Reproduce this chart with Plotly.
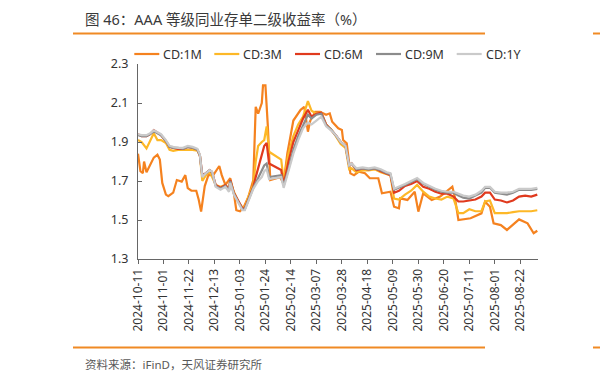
import plotly.graph_objects as go

# ---------------- data ----------------
dates_1m = ["2024-10-11","2024-10-13","2024-10-15","2024-10-16","2024-10-18","2024-10-21","2024-10-24","2024-10-27",
            "2024-10-29","2024-10-31","2024-11-03","2024-11-05","2024-11-09","2024-11-12","2024-11-16","2024-11-19",
            "2024-11-21","2024-11-24","2024-11-28","2024-11-30","2024-12-02","2024-12-05","2024-12-08","2024-12-12",
            "2024-12-17","2024-12-19","2024-12-22","2024-12-26","2024-12-29","2024-12-31","2025-01-03","2025-01-06",
            "2025-01-10","2025-01-14","2025-01-16","2025-01-18","2025-01-21","2025-01-22","2025-01-24","2025-01-26",
            "2025-01-28","2025-02-05","2025-02-08","2025-02-11","2025-02-16","2025-02-22","2025-02-25","2025-02-28",
            "2025-03-02","2025-03-06","2025-03-10","2025-03-15","2025-03-18","2025-03-20","2025-03-25","2025-03-28",
            "2025-03-29","2025-04-01","2025-04-04","2025-04-07","2025-04-11","2025-04-16","2025-04-20","2025-04-27",
            "2025-04-30","2025-05-07","2025-05-10","2025-05-14","2025-05-15","2025-05-21","2025-05-27","2025-05-30",
            "2025-06-03","2025-06-10","2025-06-17","2025-06-27","2025-06-29","2025-07-02","2025-07-12","2025-07-21",
            "2025-07-24","2025-07-28","2025-07-31","2025-08-06","2025-08-11","2025-08-21","2025-08-28","2025-09-02",
            "2025-09-05"]
cd_1m = [1.84,1.75,1.74,1.80,1.745,1.78,1.82,1.835,
         1.81,1.69,1.63,1.622,1.64,1.705,1.697,1.73,
         1.663,1.65,1.65,1.605,1.543,1.674,1.73,1.73,
         1.777,1.73,1.68,1.714,1.637,1.55,1.545,1.565,
         1.62,1.705,2.08,2.045,2.10,2.19,2.19,1.98,
         1.705,1.72,1.688,1.84,2.01,2.065,2.08,1.953,
         2.01,2.055,2.055,2.04,2.047,2.004,1.97,1.962,
         1.91,1.893,1.739,1.73,1.748,1.74,1.714,1.714,
         1.637,1.645,1.568,1.56,1.611,1.603,1.645,1.543,
         1.637,1.603,1.62,1.671,1.62,1.50,1.509,1.534,
         1.594,1.568,1.483,1.474,1.449,1.503,1.483,1.432,
         1.445]

dates = ["2024-10-11","2024-10-14","2024-10-18","2024-10-21","2024-10-24","2024-10-27","2024-10-30","2024-11-03",
         "2024-11-06","2024-11-09","2024-11-13","2024-11-17","2024-11-21","2024-11-25","2024-11-29","2024-12-01",
         "2024-12-03","2024-12-06","2024-12-09","2024-12-11","2024-12-14","2024-12-18","2024-12-22","2024-12-25",
         "2024-12-26","2024-12-29","2025-01-02","2025-01-05","2025-01-07","2025-01-10","2025-01-14","2025-01-16",
         "2025-01-18","2025-01-21","2025-01-23","2025-01-25","2025-01-27","2025-02-06","2025-02-08","2025-02-12",
         "2025-02-16","2025-02-20","2025-02-24","2025-02-28","2025-03-03","2025-03-07","2025-03-11","2025-03-15",
         "2025-03-19","2025-03-23","2025-03-27","2025-03-31","2025-04-03","2025-04-05","2025-04-09","2025-04-14",
         "2025-04-19","2025-04-24","2025-04-29","2025-05-04","2025-05-07","2025-05-10","2025-05-14","2025-05-19",
         "2025-05-24","2025-05-29","2025-06-03","2025-06-08","2025-06-13","2025-06-18","2025-06-23","2025-06-28",
         "2025-07-02","2025-07-06","2025-07-11","2025-07-16","2025-07-21","2025-07-24","2025-07-28","2025-08-01",
         "2025-08-06","2025-08-11","2025-08-16","2025-08-21","2025-08-26","2025-08-31","2025-09-05"]
cd_3m = [1.91,1.90,1.867,1.91,1.945,1.91,1.91,1.895,
         1.86,1.855,1.86,1.86,1.86,1.86,1.855,1.83,
         1.70,1.73,1.75,1.72,1.68,1.67,1.68,1.66,
         1.70,1.645,1.59,1.565,1.565,1.62,1.68,1.80,
         1.88,1.90,1.91,1.98,1.85,1.81,1.70,1.84,
         1.93,1.99,2.03,2.11,2.06,2.045,2.05,1.99,
         1.965,1.93,1.89,1.87,1.76,1.765,1.745,1.755,
         1.755,1.76,1.745,1.735,1.73,1.61,1.605,1.63,
         1.65,1.68,1.645,1.62,1.61,1.605,1.62,1.61,
         1.535,1.535,1.555,1.545,1.545,1.595,1.60,1.535,
         1.535,1.535,1.54,1.545,1.545,1.545,1.55]
cd_6m = [1.94,1.93,1.93,1.94,1.96,1.945,1.935,1.905,
         1.875,1.87,1.865,1.865,1.875,1.87,1.86,1.83,
         1.73,1.74,1.755,1.745,1.68,1.665,1.68,1.655,
         1.705,1.64,1.59,1.56,1.56,1.61,1.67,1.72,
         1.77,1.84,1.88,1.895,1.79,1.756,1.68,1.80,
         1.90,1.96,2.02,2.065,2.03,2.045,2.05,1.99,
         1.965,1.935,1.90,1.88,1.78,1.79,1.755,1.765,
         1.76,1.765,1.75,1.735,1.73,1.64,1.65,1.675,
         1.685,1.70,1.67,1.66,1.645,1.635,1.635,1.62,
         1.595,1.595,1.60,1.605,1.62,1.64,1.64,1.605,
         1.60,1.59,1.60,1.62,1.625,1.62,1.63]
cd_9m = [1.935,1.93,1.93,1.94,1.955,1.945,1.935,1.905,
         1.875,1.87,1.87,1.865,1.875,1.87,1.86,1.83,
         1.725,1.74,1.755,1.745,1.675,1.66,1.675,1.65,
         1.70,1.635,1.585,1.555,1.555,1.605,1.665,1.69,
         1.715,1.75,1.78,1.79,1.72,1.73,1.675,1.76,
         1.86,1.93,1.99,2.04,2.02,2.04,2.045,1.985,
         1.965,1.935,1.90,1.88,1.78,1.79,1.76,1.765,
         1.76,1.765,1.755,1.74,1.735,1.655,1.665,1.68,
         1.695,1.71,1.685,1.67,1.655,1.645,1.64,1.64,
         1.625,1.615,1.61,1.625,1.64,1.665,1.665,1.64,
         1.635,1.63,1.64,1.655,1.655,1.655,1.66]
cd_1y = [1.94,1.935,1.935,1.945,1.96,1.95,1.94,1.91,
         1.88,1.875,1.87,1.87,1.88,1.875,1.865,1.835,
         1.72,1.74,1.755,1.75,1.67,1.655,1.67,1.645,
         1.69,1.63,1.58,1.55,1.55,1.60,1.66,1.68,
         1.70,1.72,1.75,1.76,1.71,1.72,1.665,1.75,
         1.84,1.91,1.97,2.00,1.99,2.01,2.03,1.98,
         1.96,1.935,1.90,1.88,1.78,1.79,1.765,1.77,
         1.765,1.77,1.76,1.745,1.74,1.66,1.67,1.685,
         1.70,1.715,1.69,1.675,1.66,1.65,1.645,1.645,
         1.635,1.625,1.62,1.63,1.65,1.67,1.67,1.645,
         1.64,1.64,1.645,1.66,1.66,1.66,1.665]

series_names = ["CD:1M", "CD:3M", "CD:6M", "CD:9M", "CD:1Y"]
series_colors = ["#F5821F", "#FDB827", "#E03A1E", "#8C8C8C", "#CACACA"]
y_ticks = [1.3, 1.5, 1.7, 1.9, 2.1, 2.3]

title_text = "图 46：AAA 等级同业存单二级收益率（%）"
source_text = "资料来源：iFinD，天风证券研究所"

# ---------------- layout helpers ----------------
# the page body adds an 8px offset, so the figure is 8px smaller and shifted
OFF = 8
W, H = 608 - OFF, 383 - OFF
PLOT_L, PLOT_R, PLOT_T, PLOT_B = 138, 538, 64, 259   # page pixels
L = PLOT_L - OFF
T = PLOT_T - OFF
R = W - (PLOT_R - OFF)
B = H - (PLOT_B - OFF)
PW, PH = PLOT_R - PLOT_L, PLOT_B - PLOT_T


def px(x):
    return (x - PLOT_L) / PW


def py(y):
    return (PLOT_B - y) / PH


FONT = "Noto Sans, Noto Sans CJK SC, sans-serif"

fig = go.Figure()
xs = [dates_1m, dates, dates, dates, dates]
ys = [cd_1m, cd_3m, cd_6m, cd_9m, cd_1y]
for name, color, xv, yv in zip(series_names, series_colors, xs, ys):
    fig.add_trace(go.Scatter(x=xv, y=yv, mode="lines", name=name,
                             line=dict(color=color, width=2.2), showlegend=False))

shapes = []
annotations = []

# manual legend
leg_x = [134.3, 214.3, 295.0, 376.0, 456.7]
for name, color, lx in zip(series_names, series_colors, leg_x):
    shapes.append(dict(type="line", xref="paper", yref="paper",
                       x0=px(lx), x1=px(lx + 25), y0=py(54), y1=py(54),
                       line=dict(color=color, width=2.2)))
    annotations.append(dict(text=name, xref="paper", yref="paper", x=px(lx + 27), y=py(54.5),
                            xanchor="left", yanchor="middle", showarrow=False,
                            font=dict(family=FONT, size=12.5, color="#333333")))

# orange rules
for y in (33.5, 347.5):
    for x0, x1 in ((73, 485), (593, 620)):
        shapes.append(dict(type="line", xref="paper", yref="paper",
                           x0=px(x0), x1=px(x1), y0=py(y), y1=py(y),
                           line=dict(color="#F08A24", width=2)))

annotations.append(dict(text=title_text, xref="paper", yref="paper", x=px(83), y=py(19.5),
                        xanchor="left", yanchor="middle", showarrow=False,
                        font=dict(family=FONT, size=14.5, color="#3A3A3A")))
annotations.append(dict(text=source_text, xref="paper", yref="paper", x=px(83), y=py(365),
                        xanchor="left", yanchor="middle", showarrow=False,
                        font=dict(family=FONT, size=11.5, color="#595959")))
annotations.append(dict(text="图", xref="paper", yref="paper", x=px(603), y=py(19.5),
                        xanchor="left", yanchor="middle", showarrow=False,
                        font=dict(family=FONT, size=14, color="#404040")))
annotations.append(dict(text="资", xref="paper", yref="paper", x=px(603), y=py(365),
                        xanchor="left", yanchor="middle", showarrow=False,
                        font=dict(family=FONT, size=11.5, color="#595959")))

fig.update_layout(
    width=W, height=H,
    margin=dict(l=L, r=R, t=T, b=B, pad=0),
    paper_bgcolor="white", plot_bgcolor="white",
    font=dict(family=FONT, size=12, color="#333333"),
    shapes=shapes, annotations=annotations,
    showlegend=False,
)
fig.update_xaxes(
    type="date", range=["2024-10-11", "2025-09-05 14:00"],
    tick0="2024-10-11", dtick=21 * 86400000, tickformat="%Y-%m-%d",
    tickangle=-90, ticks="outside", ticklen=4, tickcolor="#666666",
    showline=True, linecolor="#666666", linewidth=1.2, showgrid=False, zeroline=False,
    tickfont=dict(family=FONT, size=12, color="#333333"),
)
fig.update_yaxes(
    range=[1.3, 2.3], tickvals=y_ticks, ticktext=[f"{v:.1f}" for v in y_ticks],
    ticks="inside", ticklen=4, tickcolor="#666666",
    showline=True, linecolor="#666666", linewidth=1.2, showgrid=False, zeroline=False,
    tickfont=dict(family=FONT, size=12.5, color="#333333"), ticklabelstandoff=6,
)

fig.write_html("out.html")
